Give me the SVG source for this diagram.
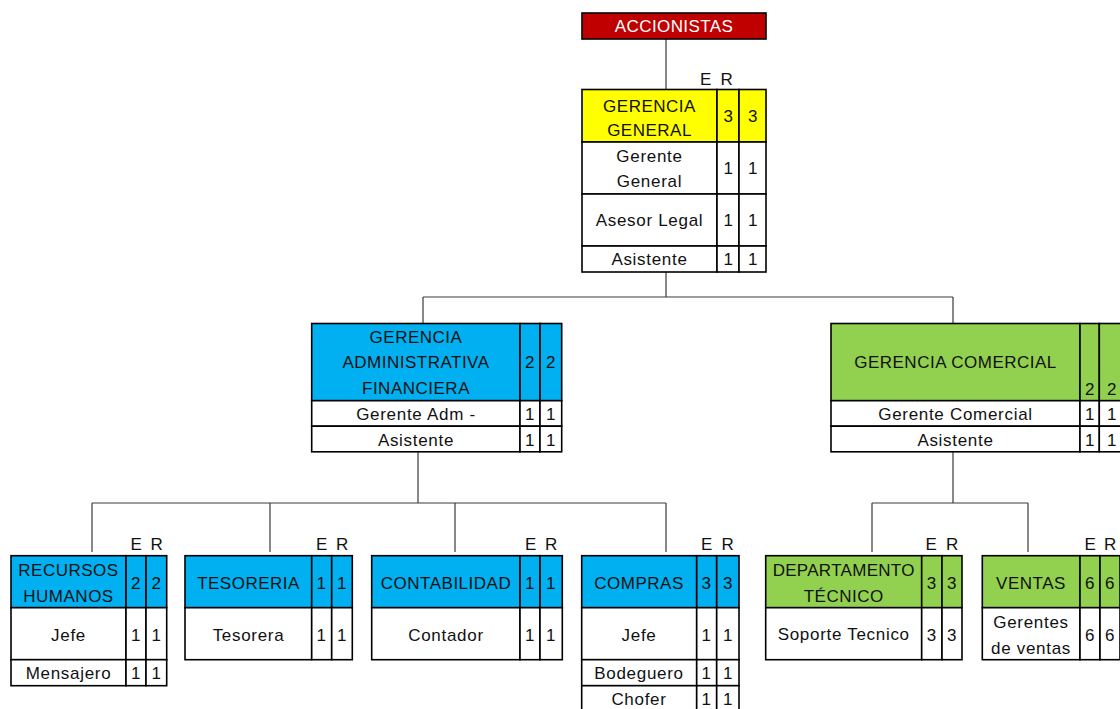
<svg xmlns="http://www.w3.org/2000/svg" width="1120" height="709" viewBox="0 0 1120 709">
  <style>
    text { font-family: "Liberation Sans", Arial, sans-serif; font-size: 17px; letter-spacing: 0.7px; fill: #111; text-anchor: middle; dominant-baseline: central; }
    .hdr { letter-spacing: 0.5px; }
    .cell { stroke: #000; stroke-width: 1.6; }
    .red { fill: #C00000; }
    .yel { fill: #FFFF00; }
    .blu { fill: #00B0F0; }
    .grn { fill: #92D050; }
    .wht { fill: #ffffff; }
    .conn line { stroke: #3a3a3a; stroke-width: 1.2; }
  </style>

  <!-- connectors -->
  <g id="connectors" class="conn">
    <line x1="666" y1="39" x2="666" y2="89.5"/>
    <line x1="666" y1="272" x2="666" y2="297"/>
    <line x1="423" y1="297" x2="953" y2="297"/>
    <line x1="423" y1="297" x2="423" y2="323.5"/>
    <line x1="953" y1="297" x2="953" y2="323.5"/>
    <line x1="418" y1="452" x2="418" y2="503"/>
    <line x1="92" y1="503" x2="666" y2="503"/>
    <line x1="92" y1="503" x2="92" y2="552"/>
    <line x1="270" y1="503" x2="270" y2="552"/>
    <line x1="455" y1="503" x2="455" y2="552"/>
    <line x1="666" y1="503" x2="666" y2="552"/>
    <line x1="953" y1="452" x2="953" y2="503"/>
    <line x1="872" y1="503" x2="1028" y2="503"/>
    <line x1="872" y1="503" x2="872" y2="552"/>
    <line x1="1028" y1="503" x2="1028" y2="552"/>
  </g>

  <!-- shareholders -->
  <g id="accionistas">
    <rect class="cell red" x="582" y="13" width="184" height="26"/>
    <text class="hdr" x="674" y="26" style="fill:#ffffff;letter-spacing:0.4px">ACCIONISTAS</text>
  </g>

  <!-- general management -->
  <g id="gerencia-general">
    <text x="706" y="79">E</text>
    <text x="727" y="79">R</text>
    <rect class="cell yel" x="582" y="89.5" width="135" height="52.5"/>
    <rect class="cell yel" x="717" y="89.5" width="22" height="52.5"/>
    <rect class="cell yel" x="739" y="89.5" width="27" height="52.5"/>
    <rect class="cell wht" x="582" y="142" width="135" height="52"/>
    <rect class="cell wht" x="717" y="142" width="22" height="52"/>
    <rect class="cell wht" x="739" y="142" width="27" height="52"/>
    <rect class="cell wht" x="582" y="194" width="135" height="52"/>
    <rect class="cell wht" x="717" y="194" width="22" height="52"/>
    <rect class="cell wht" x="739" y="194" width="27" height="52"/>
    <rect class="cell wht" x="582" y="246" width="135" height="26"/>
    <rect class="cell wht" x="717" y="246" width="22" height="26"/>
    <rect class="cell wht" x="739" y="246" width="27" height="26"/>
    <text class="hdr" x="649.5" y="106">GERENCIA</text>
    <text class="hdr" x="649.5" y="130">GENERAL</text>
    <text x="728.5" y="116">3</text>
    <text x="753" y="116">3</text>
    <text x="649.5" y="156">Gerente</text>
    <text x="649.5" y="181">General</text>
    <text x="728.5" y="168">1</text>
    <text x="753" y="168">1</text>
    <text x="649.5" y="220">Asesor Legal</text>
    <text x="728.5" y="220">1</text>
    <text x="753" y="220">1</text>
    <text x="649.5" y="259.5">Asistente</text>
    <text x="728.5" y="259.5">1</text>
    <text x="753" y="259.5">1</text>
  </g>

  <!-- administrative / financial management -->
  <g id="gerencia-administrativa">
    <rect class="cell blu" x="311.7" y="323.5" width="208.3" height="77.2"/>
    <rect class="cell blu" x="520" y="323.5" width="20" height="77.2"/>
    <rect class="cell blu" x="540" y="323.5" width="21.7" height="77.2"/>
    <rect class="cell wht" x="311.7" y="400.7" width="208.3" height="25.5"/>
    <rect class="cell wht" x="520" y="400.7" width="20" height="25.5"/>
    <rect class="cell wht" x="540" y="400.7" width="21.7" height="25.5"/>
    <rect class="cell wht" x="311.7" y="426.2" width="208.3" height="25.6"/>
    <rect class="cell wht" x="520" y="426.2" width="20" height="25.6"/>
    <rect class="cell wht" x="540" y="426.2" width="21.7" height="25.6"/>
    <text class="hdr" x="416" y="337">GERENCIA</text>
    <text class="hdr" x="416" y="362.5">ADMINISTRATIVA</text>
    <text class="hdr" x="416" y="388.5">FINANCIERA</text>
    <text x="530" y="362.5">2</text>
    <text x="551" y="362.5">2</text>
    <text x="416" y="414">Gerente Adm -</text>
    <text x="530" y="414">1</text>
    <text x="551" y="414">1</text>
    <text x="416" y="440">Asistente</text>
    <text x="530" y="440">1</text>
    <text x="551" y="440">1</text>
  </g>

  <!-- commercial management -->
  <g id="gerencia-comercial">
    <rect class="cell grn" x="831" y="323.5" width="249" height="77.2"/>
    <rect class="cell grn" x="1080" y="323.5" width="19.3" height="77.2"/>
    <rect class="cell grn" x="1099.3" y="323.5" width="22.7" height="77.2"/>
    <rect class="cell wht" x="831" y="400.7" width="249" height="25.5"/>
    <rect class="cell wht" x="1080" y="400.7" width="19.3" height="25.5"/>
    <rect class="cell wht" x="1099.3" y="400.7" width="22.7" height="25.5"/>
    <rect class="cell wht" x="831" y="426.2" width="249" height="25.6"/>
    <rect class="cell wht" x="1080" y="426.2" width="19.3" height="25.6"/>
    <rect class="cell wht" x="1099.3" y="426.2" width="22.7" height="25.6"/>
    <text class="hdr" x="955.5" y="362.5">GERENCIA COMERCIAL</text>
    <text x="1090" y="389">2</text>
    <text x="1112" y="389">2</text>
    <text x="955.5" y="414">Gerente Comercial</text>
    <text x="1090" y="414">1</text>
    <text x="1112" y="414">1</text>
    <text x="955.5" y="440">Asistente</text>
    <text x="1090" y="440">1</text>
    <text x="1112" y="440">1</text>
  </g>

  <!-- human resources -->
  <g id="recursos-humanos">
    <text x="136.5" y="544">E</text>
    <text x="157" y="544">R</text>
    <rect class="cell blu" x="11" y="555.7" width="115" height="52"/>
    <rect class="cell blu" x="126" y="555.7" width="20" height="52"/>
    <rect class="cell blu" x="146" y="555.7" width="20.7" height="52"/>
    <rect class="cell wht" x="11" y="607.7" width="115" height="52"/>
    <rect class="cell wht" x="126" y="607.7" width="20" height="52"/>
    <rect class="cell wht" x="146" y="607.7" width="20.7" height="52"/>
    <rect class="cell wht" x="11" y="659.7" width="115" height="26"/>
    <rect class="cell wht" x="126" y="659.7" width="20" height="26"/>
    <rect class="cell wht" x="146" y="659.7" width="20.7" height="26"/>
    <text class="hdr" x="68.5" y="570">RECURSOS</text>
    <text class="hdr" x="68.5" y="596">HUMANOS</text>
    <text x="136" y="583">2</text>
    <text x="156.5" y="583">2</text>
    <text x="68.5" y="635">Jefe</text>
    <text x="136" y="635">1</text>
    <text x="156.5" y="635">1</text>
    <text x="68.5" y="673.5">Mensajero</text>
    <text x="136" y="673.5">1</text>
    <text x="156.5" y="673.5">1</text>
  </g>

  <!-- treasury -->
  <g id="tesoreria">
    <text x="322" y="544">E</text>
    <text x="342.5" y="544">R</text>
    <rect class="cell blu" x="185" y="555.7" width="126.7" height="52"/>
    <rect class="cell blu" x="311.7" y="555.7" width="20" height="52"/>
    <rect class="cell blu" x="331.7" y="555.7" width="20.6" height="52"/>
    <rect class="cell wht" x="185" y="607.7" width="126.7" height="52"/>
    <rect class="cell wht" x="311.7" y="607.7" width="20" height="52"/>
    <rect class="cell wht" x="331.7" y="607.7" width="20.6" height="52"/>
    <text class="hdr" x="248.5" y="583">TESORERIA</text>
    <text x="321.7" y="583">1</text>
    <text x="342" y="583">1</text>
    <text x="248.5" y="635">Tesorera</text>
    <text x="321.7" y="635">1</text>
    <text x="342" y="635">1</text>
  </g>

  <!-- accounting -->
  <g id="contabilidad">
    <text x="531" y="544">E</text>
    <text x="551.5" y="544">R</text>
    <rect class="cell blu" x="371.7" y="555.7" width="148.3" height="52"/>
    <rect class="cell blu" x="520" y="555.7" width="20" height="52"/>
    <rect class="cell blu" x="540" y="555.7" width="22.3" height="52"/>
    <rect class="cell wht" x="371.7" y="607.7" width="148.3" height="52"/>
    <rect class="cell wht" x="520" y="607.7" width="20" height="52"/>
    <rect class="cell wht" x="540" y="607.7" width="22.3" height="52"/>
    <text class="hdr" x="446" y="583">CONTABILIDAD</text>
    <text x="530" y="583">1</text>
    <text x="551" y="583">1</text>
    <text x="446" y="635">Contador</text>
    <text x="530" y="635">1</text>
    <text x="551" y="635">1</text>
  </g>

  <!-- purchasing -->
  <g id="compras">
    <text x="707" y="544">E</text>
    <text x="728" y="544">R</text>
    <rect class="cell blu" x="581.7" y="555.7" width="115" height="52"/>
    <rect class="cell blu" x="696.7" y="555.7" width="20" height="52"/>
    <rect class="cell blu" x="716.7" y="555.7" width="22.3" height="52"/>
    <rect class="cell wht" x="581.7" y="607.7" width="115" height="52"/>
    <rect class="cell wht" x="696.7" y="607.7" width="20" height="52"/>
    <rect class="cell wht" x="716.7" y="607.7" width="22.3" height="52"/>
    <rect class="cell wht" x="581.7" y="659.7" width="115" height="26"/>
    <rect class="cell wht" x="696.7" y="659.7" width="20" height="26"/>
    <rect class="cell wht" x="716.7" y="659.7" width="22.3" height="26"/>
    <rect class="cell wht" x="581.7" y="685.7" width="115" height="26"/>
    <rect class="cell wht" x="696.7" y="685.7" width="20" height="26"/>
    <rect class="cell wht" x="716.7" y="685.7" width="22.3" height="26"/>
    <text class="hdr" x="639" y="583">COMPRAS</text>
    <text x="706.7" y="583">3</text>
    <text x="728" y="583">3</text>
    <text x="639" y="635">Jefe</text>
    <text x="706.7" y="635">1</text>
    <text x="728" y="635">1</text>
    <text x="639" y="673.5">Bodeguero</text>
    <text x="706.7" y="673.5">1</text>
    <text x="728" y="673.5">1</text>
    <text x="639" y="699.5">Chofer</text>
    <text x="706.7" y="699.5">1</text>
    <text x="728" y="699.5">1</text>
  </g>

  <!-- technical department -->
  <g id="departamento-tecnico">
    <text x="931.5" y="544">E</text>
    <text x="952.5" y="544">R</text>
    <rect class="cell grn" x="765.7" y="555.7" width="156" height="52"/>
    <rect class="cell grn" x="921.7" y="555.7" width="20.3" height="52"/>
    <rect class="cell grn" x="942" y="555.7" width="20" height="52"/>
    <rect class="cell wht" x="765.7" y="607.7" width="156" height="52"/>
    <rect class="cell wht" x="921.7" y="607.7" width="20.3" height="52"/>
    <rect class="cell wht" x="942" y="607.7" width="20" height="52"/>
    <text class="hdr" x="843.7" y="570" style="letter-spacing:0.3px">DEPARTAMENTO</text>
    <text class="hdr" x="843.7" y="596">TÉCNICO</text>
    <text x="931.8" y="583">3</text>
    <text x="952" y="583">3</text>
    <text x="843.7" y="634">Soporte Tecnico</text>
    <text x="931.8" y="635">3</text>
    <text x="952" y="635">3</text>
  </g>

  <!-- sales -->
  <g id="ventas">
    <text x="1090.5" y="544">E</text>
    <text x="1110.5" y="544">R</text>
    <rect class="cell grn" x="982.3" y="555.7" width="97.7" height="52"/>
    <rect class="cell grn" x="1080" y="555.7" width="20" height="52"/>
    <rect class="cell grn" x="1100" y="555.7" width="20" height="52"/>
    <rect class="cell wht" x="982.3" y="607.7" width="97.7" height="52"/>
    <rect class="cell wht" x="1080" y="607.7" width="20" height="52"/>
    <rect class="cell wht" x="1100" y="607.7" width="20" height="52"/>
    <text class="hdr" x="1031" y="583">VENTAS</text>
    <text x="1090" y="583">6</text>
    <text x="1110" y="583">6</text>
    <text x="1031" y="622">Gerentes</text>
    <text x="1031" y="648">de ventas</text>
    <text x="1090" y="635">6</text>
    <text x="1110" y="635">6</text>
  </g>
</svg>
